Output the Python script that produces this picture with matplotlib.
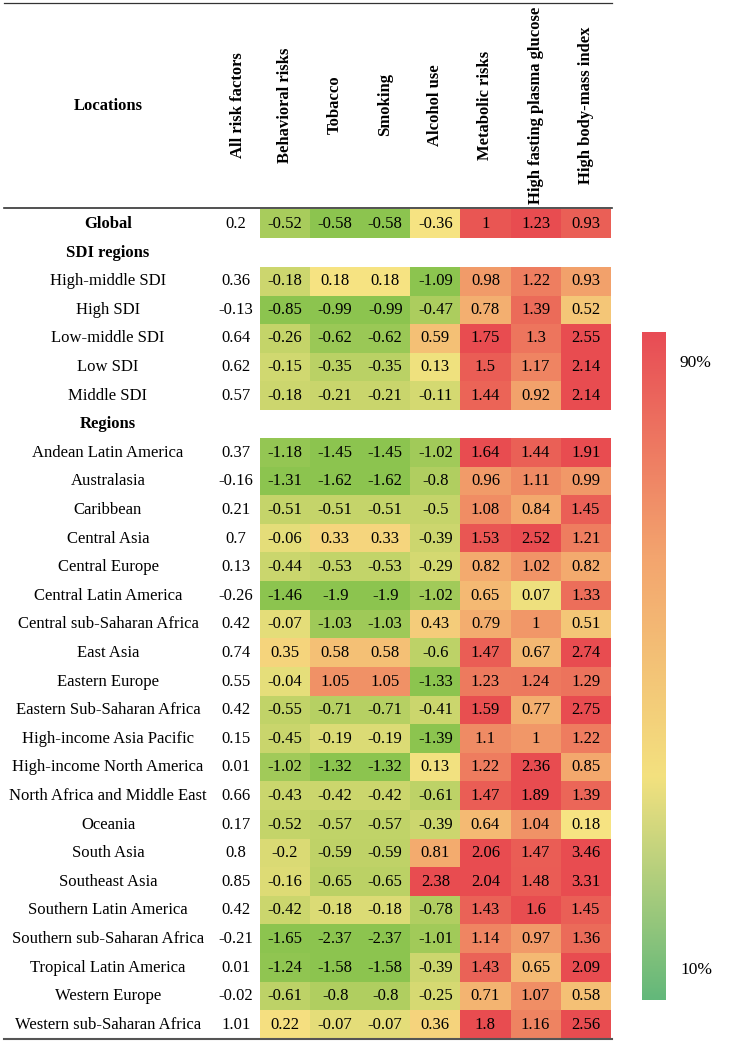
import numpy as np
import matplotlib
matplotlib.use("Agg")
import matplotlib.pyplot as plt
from matplotlib.colors import LinearSegmentedColormap

plt.rcParams['font.family'] = ['Liberation Serif', 'DejaVu Serif']

columns = ['All risk factors', 'Behavioral risks', 'Tobacco', 'Smoking', 'Alcohol use',
           'Metabolic risks', 'High fasting plasma glucose', 'High body-mass index']

global_vals = [0.2, -0.52, -0.58, -0.58, -0.36, 1, 1.23, 0.93]

sdi_names = ['High-middle SDI', 'High SDI', 'Low-middle SDI', 'Low SDI', 'Middle SDI']
sdi_vals = [
    [0.36, -0.18, 0.18, 0.18, -1.09, 0.98, 1.22, 0.93],
    [-0.13, -0.85, -0.99, -0.99, -0.47, 0.78, 1.39, 0.52],
    [0.64, -0.26, -0.62, -0.62, 0.59, 1.75, 1.3, 2.55],
    [0.62, -0.15, -0.35, -0.35, 0.13, 1.5, 1.17, 2.14],
    [0.57, -0.18, -0.21, -0.21, -0.11, 1.44, 0.92, 2.14],
]

region_names = ['Andean Latin America', 'Australasia', 'Caribbean', 'Central Asia',
                'Central Europe', 'Central Latin America', 'Central sub-Saharan Africa',
                'East Asia', 'Eastern Europe', 'Eastern Sub-Saharan Africa',
                'High-income Asia Pacific', 'High-income North America',
                'North Africa and Middle East', 'Oceania', 'South Asia', 'Southeast Asia',
                'Southern Latin America', 'Southern sub-Saharan Africa',
                'Tropical Latin America', 'Western Europe', 'Western sub-Saharan Africa']
region_vals = [
    [0.37, -1.18, -1.45, -1.45, -1.02, 1.64, 1.44, 1.91],
    [-0.16, -1.31, -1.62, -1.62, -0.8, 0.96, 1.11, 0.99],
    [0.21, -0.51, -0.51, -0.51, -0.5, 1.08, 0.84, 1.45],
    [0.7, -0.06, 0.33, 0.33, -0.39, 1.53, 2.52, 1.21],
    [0.13, -0.44, -0.53, -0.53, -0.29, 0.82, 1.02, 0.82],
    [-0.26, -1.46, -1.9, -1.9, -1.02, 0.65, 0.07, 1.33],
    [0.42, -0.07, -1.03, -1.03, 0.43, 0.79, 1, 0.51],
    [0.74, 0.35, 0.58, 0.58, -0.6, 1.47, 0.67, 2.74],
    [0.55, -0.04, 1.05, 1.05, -1.33, 1.23, 1.24, 1.29],
    [0.42, -0.55, -0.71, -0.71, -0.41, 1.59, 0.77, 2.75],
    [0.15, -0.45, -0.19, -0.19, -1.39, 1.1, 1, 1.22],
    [0.01, -1.02, -1.32, -1.32, 0.13, 1.22, 2.36, 0.85],
    [0.66, -0.43, -0.42, -0.42, -0.61, 1.47, 1.89, 1.39],
    [0.17, -0.52, -0.57, -0.57, -0.39, 0.64, 1.04, 0.18],
    [0.8, -0.2, -0.59, -0.59, 0.81, 2.06, 1.47, 3.46],
    [0.85, -0.16, -0.65, -0.65, 2.38, 2.04, 1.48, 3.31],
    [0.42, -0.42, -0.18, -0.18, -0.78, 1.43, 1.6, 1.45],
    [-0.21, -1.65, -2.37, -2.37, -1.01, 1.14, 0.97, 1.36],
    [0.01, -1.24, -1.58, -1.58, -0.39, 1.43, 0.65, 2.09],
    [-0.02, -0.61, -0.8, -0.8, -0.25, 0.71, 1.07, 0.58],
    [1.01, 0.22, -0.07, -0.07, 0.36, 1.8, 1.16, 2.56],
]

cell_cmap = LinearSegmentedColormap.from_list('cells', ['#8cc44f', '#f6e382', '#f3a46c', '#e84c50'])
bar_cmap = LinearSegmentedColormap.from_list('bar', ['#63b87a', '#f3e17f', '#f3a46e', '#e84c55'])


def block_colors(vals):
    # 3-colour scale: 10th pct green, median yellow, 90th pct red
    v = np.asarray(vals, dtype=float)
    p10, p50, p90 = np.percentile(v, [10, 50, 90])
    t = np.where(v <= p50,
                 0.5 * (v - p10) / (p50 - p10),
                 0.5 + 0.5 * (v - p50) / (p90 - p50))
    t = np.clip(t, 0, 1)
    # map 0..0.5..1 onto the 4-stop colormap (green, yellow, orange, red)
    t = np.where(t <= 0.5, t * 2 / 3, 1 / 3 + (t - 0.5) * 4 / 3)
    return cell_cmap(t)


fig = plt.figure(figsize=(7.31, 10.41), dpi=100)
ax = fig.add_axes([0, 0, 1, 1])
ax.set_xlim(0, 731)
ax.set_ylim(1041, 0)
ax.axis('off')

x0, cw = 260, 50.1
loc_x, all_x = 108, 236
y0, rh = 224, 28.6
fs = 12

# headers
ax.text(loc_x, 106, 'Locations', ha='center', va='center', fontsize=fs, fontweight='bold')
ax.text(all_x + 2, 105, columns[0], ha='center', va='center', rotation=90,
        fontsize=fs, fontweight='bold')
for j, c in enumerate(columns[1:]):
    ax.text(x0 + cw * (j + 0.5), 105, c, ha='center', va='center', rotation=90,
            fontsize=fs, fontweight='bold')

# rows: (label, values, bold)
rows = [('Global', global_vals, True), ('SDI regions', None, True)]
rows += [(n, v, False) for n, v in zip(sdi_names, sdi_vals)]
rows += [('Regions', None, True)]
rows += [(n, v, False) for n, v in zip(region_names, region_vals)]

blocks = [[global_vals], sdi_vals, region_vals]
block_start = [0, 2, 8]
for start, blk in zip(block_start, blocks):
    cols = block_colors([r[1:] for r in blk])
    top = y0 + rh * (start - 0.5)
    ax.imshow(cols, extent=[x0, x0 + 7 * cw, top + rh * len(blk), top],
              aspect='auto', interpolation='nearest', zorder=1)

for i, (name, vals, bold) in enumerate(rows):
    y = y0 + rh * i
    ax.text(loc_x, y, name, ha='center', va='center', fontsize=fs,
            fontweight='bold' if bold else 'normal')
    if vals is None:
        continue
    ax.text(all_x, y, f'{vals[0]:g}', ha='center', va='center', fontsize=fs)
    for j, v in enumerate(vals[1:]):
        ax.text(x0 + cw * (j + 0.5), y, f'{v:g}', ha='center', va='center',
                fontsize=fs, zorder=3)

# rules
ax.plot([4, 612], [3, 3], color='#333333', lw=0.9)
ax.plot([4, 612], [207.5, 207.5], color='#333333', lw=1.2)
ax.plot([4, 612], [1039, 1039], color='#555555', lw=1.5)

# colour bar
grad = np.linspace(1, 0, 256).reshape(-1, 1)
ax.imshow(grad, cmap=bar_cmap, extent=[642, 666, 1000, 332], aspect='auto', zorder=1)
ax.text(680, 363, '90%', ha='left', va='center', fontsize=12.5)
ax.text(680, 970, '10%', ha='left', va='center', fontsize=12.5)

ax.set_xlim(0, 731)
ax.set_ylim(1041, 0)
fig.savefig('out.png', dpi=100)
